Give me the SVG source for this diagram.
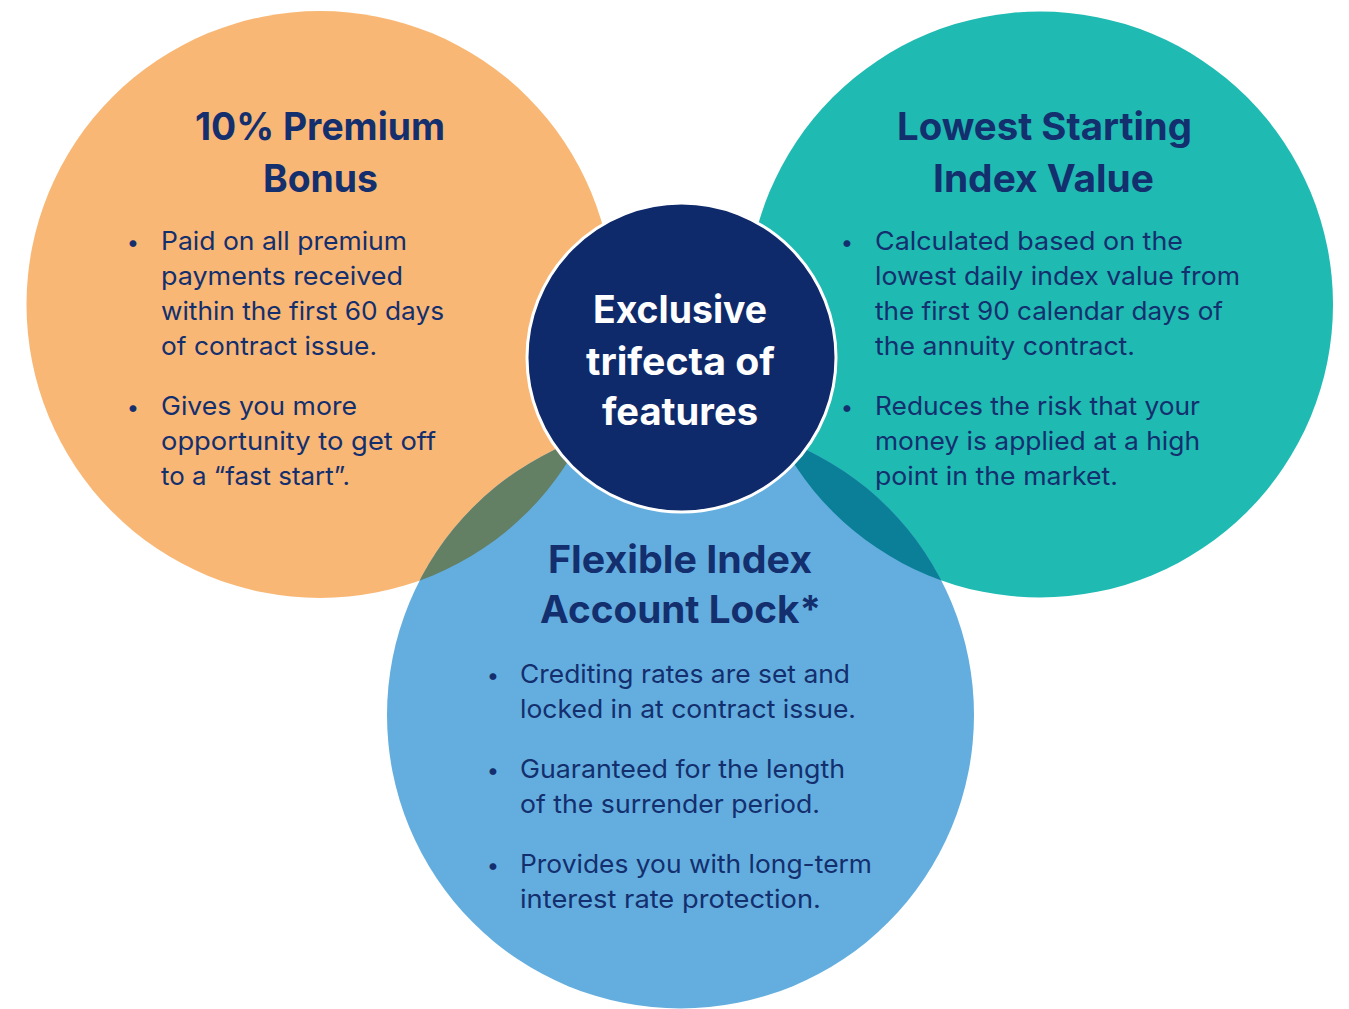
<svg xmlns="http://www.w3.org/2000/svg" width="1349" height="1009" viewBox="0 0 1349 1009">
<style>
.h{font-family:Inter,"Liberation Sans",sans-serif;font-weight:700;font-size:38px;fill:#142F6E;text-anchor:middle}
.c{font-family:Inter,"Liberation Sans",sans-serif;font-weight:700;font-size:38px;fill:#FFFFFF;text-anchor:middle}
.b{font-family:Inter,"Liberation Sans",sans-serif;font-weight:400;font-size:25.5px;fill:#142F6E}
.d{font-family:Inter,"Liberation Sans",sans-serif;font-weight:400;font-size:22px;fill:#142F6E;text-anchor:middle}
</style>
<defs>
<clipPath id="clipBlue"><circle cx="680.5" cy="715" r="293.5"/></clipPath>
</defs>
<rect width="1349" height="1009" fill="#FFFFFF"/>
<g id="circle-premium-bonus-shape"><circle cx="320" cy="304.5" r="293.5" fill="#F9B775"/></g>
<g id="circle-lowest-index-shape"><circle cx="1040" cy="304.5" r="293" fill="#1FBAB2"/></g>
<g id="circle-index-lock-shape"><circle cx="680.5" cy="715" r="293.5" fill="#63AEDF"/></g>
<g id="overlaps" clip-path="url(#clipBlue)">
<circle cx="320" cy="304.5" r="293.5" fill="#637F64"/>
<circle cx="1040" cy="304.5" r="293" fill="#0B7F97"/>
</g>
<g id="connectors"></g>
<g id="center">
<circle cx="681.5" cy="357.5" r="154.5" fill="#0F2A6A" stroke="#FFFFFF" stroke-width="3"/>
<text class="c" x="680" y="323" textLength="174" lengthAdjust="spacingAndGlyphs">Exclusive</text>
<text class="c" x="680.5" y="375" textLength="189" lengthAdjust="spacingAndGlyphs">trifecta of</text>
<text class="c" x="680" y="425" textLength="156" lengthAdjust="spacingAndGlyphs">features</text>
</g>
<g id="premium-bonus">
<text class="h" x="320" y="140" textLength="250" lengthAdjust="spacingAndGlyphs">10% Premium</text>
<text class="h" x="320.5" y="192" textLength="115" lengthAdjust="spacingAndGlyphs">Bonus</text>
<text class="d" x="133" y="250">•</text>
<text class="b" x="161" y="250" textLength="246" lengthAdjust="spacingAndGlyphs">Paid on all premium</text>
<text class="b" x="161" y="285" textLength="242" lengthAdjust="spacingAndGlyphs">payments received</text>
<text class="b" x="161" y="320" textLength="283" lengthAdjust="spacingAndGlyphs">within the first 60 days</text>
<text class="b" x="161" y="355" textLength="216" lengthAdjust="spacingAndGlyphs">of contract issue.</text>
<text class="d" x="133" y="415">•</text>
<text class="b" x="161" y="415" textLength="196" lengthAdjust="spacingAndGlyphs">Gives you more</text>
<text class="b" x="161" y="450" textLength="275" lengthAdjust="spacingAndGlyphs">opportunity to get off</text>
<text class="b" x="161" y="485" textLength="189" lengthAdjust="spacingAndGlyphs">to a “fast start”.</text>
</g>
<g id="lowest-index">
<text class="h" x="1044.5" y="140" textLength="295" lengthAdjust="spacingAndGlyphs">Lowest Starting</text>
<text class="h" x="1043.5" y="192" textLength="221" lengthAdjust="spacingAndGlyphs">Index Value</text>
<text class="d" x="847" y="250">•</text>
<text class="b" x="875" y="250" textLength="308" lengthAdjust="spacingAndGlyphs">Calculated based on the</text>
<text class="b" x="875" y="285" textLength="365" lengthAdjust="spacingAndGlyphs">lowest daily index value from</text>
<text class="b" x="875" y="320" textLength="348" lengthAdjust="spacingAndGlyphs">the first 90 calendar days of</text>
<text class="b" x="875" y="355" textLength="260" lengthAdjust="spacingAndGlyphs">the annuity contract.</text>
<text class="d" x="847" y="415">•</text>
<text class="b" x="875" y="415" textLength="325" lengthAdjust="spacingAndGlyphs">Reduces the risk that your</text>
<text class="b" x="875" y="450" textLength="325" lengthAdjust="spacingAndGlyphs">money is applied at a high</text>
<text class="b" x="875" y="485" textLength="243" lengthAdjust="spacingAndGlyphs">point in the market.</text>
</g>
<g id="index-lock">
<text class="h" x="680" y="573" textLength="264" lengthAdjust="spacingAndGlyphs">Flexible Index</text>
<text class="h" x="680.5" y="623" textLength="281" lengthAdjust="spacingAndGlyphs">Account Lock*</text>
<text class="d" x="493" y="683">•</text>
<text class="b" x="520" y="683" textLength="330" lengthAdjust="spacingAndGlyphs">Crediting rates are set and</text>
<text class="b" x="520" y="718" textLength="336" lengthAdjust="spacingAndGlyphs">locked in at contract issue.</text>
<text class="d" x="493" y="778">•</text>
<text class="b" x="520" y="778" textLength="325" lengthAdjust="spacingAndGlyphs">Guaranteed for the length</text>
<text class="b" x="520" y="813" textLength="300" lengthAdjust="spacingAndGlyphs">of the surrender period.</text>
<text class="d" x="493" y="873">•</text>
<text class="b" x="520" y="873" textLength="352" lengthAdjust="spacingAndGlyphs">Provides you with long-term</text>
<text class="b" x="520" y="908" textLength="301" lengthAdjust="spacingAndGlyphs">interest rate protection.</text>
</g>
</svg>
